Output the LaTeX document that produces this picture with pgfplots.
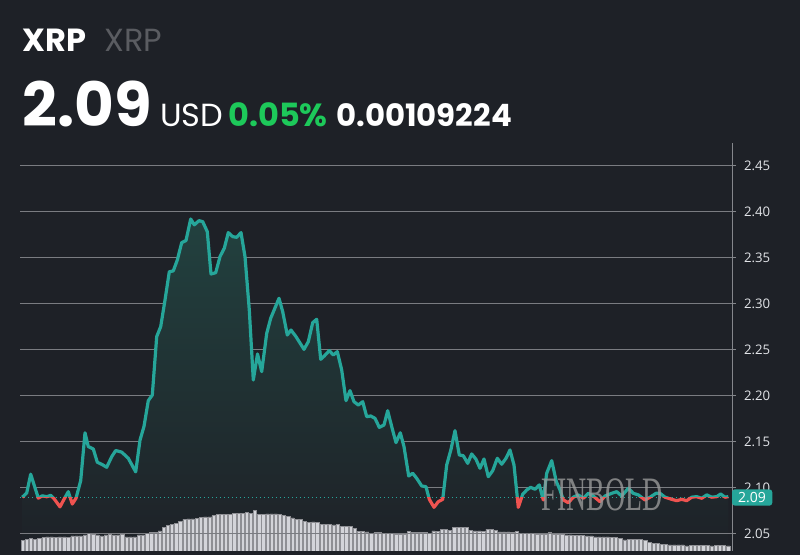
\documentclass[border=0pt]{standalone}
\usepackage{pgfplots}
\pgfplotsset{compat=1.18}
\usepackage{pgfplotstable}
\usepackage{fontspec}
\setmainfont{Poppins}
\newfontfamily\tickfont{Open Sans}
\newfontfamily\wmfont{Liberation Serif}

\definecolor{bg}{HTML}{1E2127}
\definecolor{upc}{HTML}{26A69A}
\definecolor{dnc}{HTML}{EF5350}
\definecolor{gridc}{HTML}{7A7C81}
\definecolor{axc}{HTML}{85878C}
\definecolor{txt}{HTML}{E2E4E8}
\definecolor{grn}{HTML}{1DC95A}
\definecolor{dimc}{HTML}{5A5C61}
\definecolor{barc}{HTML}{D3D4D9}
\definecolor{bare}{HTML}{8E8F94}
\definecolor{fillc}{HTML}{22413F}

% price line: x position, price (USD)
\pgfplotstableread{
x y
22.3 2.0900
26.7 2.0946
30.7 2.1150
38.3 2.0890
42.3 2.0915
46.7 2.0905
50.7 2.0920
54.3 2.0880
60.0 2.0795
64.0 2.0877
68.3 2.0960
72.3 2.0826
76.0 2.0888
80.7 2.1080
85.0 2.1600
88.3 2.1450
93.3 2.1424
97.3 2.1280
102.3 2.1254
106.7 2.1225
111.7 2.1340
115.7 2.1407
121.7 2.1390
128.3 2.1323
135.7 2.1175
140.0 2.1520
144.0 2.1670
148.3 2.1950
152.3 2.2010
156.7 2.2645
160.7 2.2754
165.0 2.3043
169.3 2.3350
173.3 2.3360
177.3 2.3478
181.7 2.3667
186.0 2.3690
190.7 2.3924
194.3 2.3860
199.0 2.3906
202.7 2.3895
207.3 2.3786
211.0 2.3326
215.7 2.3340
220.0 2.3515
224.3 2.3606
228.3 2.3776
232.7 2.3732
236.7 2.3725
241.0 2.3776
245.0 2.3515
249.3 2.2935
253.3 2.2174
257.5 2.2457
261.7 2.2265
266.7 2.2680
270.7 2.2845
279.0 2.3062
282.7 2.2917
287.3 2.2663
291.0 2.2717
296.0 2.2645
304.0 2.2507
308.3 2.2590
312.7 2.2797
316.7 2.2834
320.7 2.2399
324.3 2.2435
329.3 2.2493
333.3 2.2446
337.3 2.2482
341.7 2.2283
346.0 2.1949
350.0 2.2058
354.0 2.1938
358.3 2.1902
362.7 2.1938
366.7 2.1775
370.7 2.1783
375.0 2.1757
379.3 2.1659
384.0 2.1685
387.7 2.1840
391.7 2.1667
396.0 2.1493
400.3 2.1600
404.0 2.1450
408.7 2.1130
412.7 2.1160
416.7 2.1105
421.7 2.1022
426.0 2.1014
429.3 2.0877
434.0 2.0790
438.3 2.0851
442.7 2.0877
446.7 2.1250
451.0 2.1420
455.0 2.1623
459.3 2.1359
463.3 2.1351
467.7 2.1268
471.7 2.1370
476.0 2.1312
480.0 2.1214
484.0 2.1315
488.3 2.1123
492.7 2.1188
497.3 2.1323
501.7 2.1258
506.0 2.1323
510.0 2.1413
514.0 2.1250
518.3 2.0790
522.7 2.0932
526.7 2.0978
530.7 2.1007
535.0 2.0986
539.3 2.1033
543.3 2.0870
546.7 2.1160
551.7 2.1297
556.3 2.1070
560.0 2.0978
563.3 2.0870
568.3 2.0840
573.3 2.0900
578.3 2.0925
583.3 2.0888
588.3 2.0942
593.3 2.0913
600.0 2.0851
605.0 2.0913
611.7 2.0942
616.7 2.0960
621.7 2.0913
628.3 2.0997
633.3 2.0942
638.3 2.0925
645.0 2.0870
650.0 2.0900
656.0 2.0942
660.0 2.0942
665.0 2.0900
671.7 2.0877
676.7 2.0862
681.7 2.0877
686.7 2.0862
691.7 2.0900
696.7 2.0906
701.7 2.0888
706.7 2.0925
711.7 2.0900
716.7 2.0906
720.7 2.0935
725.0 2.0900
728.3 2.0906
}\price

% volume bars: index, relative height
\pgfplotstableread{
i v
0 10.7
1 11.7
2 12.7
3 11.7
4 12.7
5 13.3
6 14
7 14
8 13.3
9 14
10 14
11 13.3
12 15
13 15
14 15
15 16
16 17.3
17 16.7
18 16
19 15
20 16
21 16.7
22 16
23 16
24 16.7
25 14
26 14
27 14
28 16
29 16
30 17.3
31 18.3
32 18.3
33 20
34 23.3
35 25.7
36 26.7
37 27.3
38 29.3
39 31.7
40 32
41 32
42 32.7
43 33.3
44 34
45 34
46 35.3
47 36.7
48 36.7
49 36.7
50 36.7
51 37.3
52 37.3
53 37.3
54 38.3
55 37.3
56 40.7
57 36.7
58 36.3
59 37
60 37
61 37
62 36.7
63 35.3
64 34.3
65 33
66 31.7
67 31.7
68 29.7
69 28.3
70 29
71 28.3
72 26.7
73 26.3
74 26.3
75 26
76 26.7
77 24.3
78 24.3
79 24.3
80 22.7
81 19.7
82 19.7
83 19
84 17.7
85 18.3
86 18.3
87 17.7
88 17.3
89 17.3
90 16.7
91 16.7
92 16.7
93 19.3
94 18.3
95 18.3
96 18.3
97 18.3
98 17.7
99 20
100 19.3
101 21.7
102 21.7
103 20.7
104 23.3
105 23.3
106 23.3
107 23.3
108 20.7
109 20
110 20
111 19.3
112 21.7
113 21.7
114 20.7
115 19
116 19
117 19
118 18.3
119 19.3
120 17.7
121 17.7
122 17.3
123 17.7
124 16.7
125 16.7
126 16.7
127 18.3
128 16.7
129 16.7
130 16.7
131 16
132 16
133 15.7
134 15.7
135 15.7
136 15
137 15
138 14
139 14
140 14
141 14
142 13.3
143 13.3
144 12.7
145 11
146 11.3
147 11.3
148 11.3
149 11.3
150 10.7
151 8.3
152 7.3
153 7.3
154 6.7
155 6.7
156 6
157 6
158 6
159 6
160 5
161 5.7
162 5.7
163 5.7
164 5.7
165 5.7
166 5
167 5.7
168 5.7
169 5.7
170 5
}\volume

\begin{document}
\begin{tikzpicture}[x=0.5pt,y=0.5pt]
\useasboundingbox (0,0) rectangle (800,555);
\fill[bg] (0,0) rectangle (800,555);

\pgfplotsset{pxaxis/.style={at={(10pt,2pt)}, anchor=south west,
  scale only axis, width=356pt, height=204pt}}

% price scale, grid and area
\begin{axis}[pxaxis,
  xmin=20, xmax=732, ymin=2.031522, ymax=2.475,
  axis x line=none, axis y line*=right,
  axis line style={axc, line width=0.5pt, -},
  xtick=\empty,
  ytick={2.05,2.10,2.15,2.20,2.25,2.30,2.35,2.40,2.45},
  yticklabels={2.05,2.10,2.15,2.20,2.25,2.30,2.35,2.40,2.45},
  yticklabel style={font=\tickfont\fontsize{6.6}{7}\selectfont, text=txt, xshift=0.5pt},
  tick style={axc, line width=0.5pt}, major tick length=2pt, tick align=outside,
  ymajorgrids, grid style={gridc, line width=0.5pt},
]
\addplot[draw=none, top color=fillc, bottom color=bg] table[x=x,y=y]{\price} \closedcycle;
\end{axis}

% volume
\begin{axis}[pxaxis,
  xmin=-0.65, xmax=170.92, ymin=0, ymax=408,
  axis lines=none, ybar, bar width=0.78, bar shift=0pt,
]
\addplot[fill=barc, draw=bare, line width=0.3pt] table[x=i,y=v]{\volume};
\end{axis}

% price line on top
\begin{axis}[pxaxis,
  xmin=20, xmax=732, ymin=2.031522, ymax=2.475,
  axis lines=none,
]
\addplot[gridc, line width=0.5pt] coordinates {(20,2.05) (732,2.05)};
\addplot[upc, line width=0.6pt, dash pattern=on 0.7pt off 1.3pt] coordinates {(20,2.09) (732,2.09)};
\begin{scope}
\clip (axis cs:0,2.09) rectangle (axis cs:800,2.6);
\addplot[upc, line width=1.6pt, line join=round] table[x=x,y=y]{\price};
\end{scope}
\begin{scope}
\clip (axis cs:0,1.9) rectangle (axis cs:800,2.09);
\addplot[dnc, line width=1.6pt, line join=round] table[x=x,y=y]{\price};
\end{scope}
\end{axis}

% watermark
\node[inner sep=0, text=gray!80, opacity=0.8, xscale=0.58] at (602,60)
  {\wmfont\fontsize{24}{24}\selectfont FINBOLD};

% last price badge
\fill[upc, rounded corners=1.5] (732,49.3) rectangle (772.3,65.7);
\node[inner sep=0, text=white] at (752,57.3) {\tickfont\fontsize{7}{7}\selectfont 2.09};

% header
\node[anchor=base west, inner sep=0, text=white] at (22,503)
  {\fontsize{16}{16}\selectfont\bfseries XRP};
\node[anchor=base west, inner sep=0, text=dimc] at (104,503)
  {\fontsize{16}{16}\selectfont XRP};
\node[anchor=base west, inner sep=0, text=white] at (22,428)
  {\fontsize{30.5}{30.5}\selectfont\bfseries 2.09};
\node[anchor=base west, inner sep=0, text=white] at (160,428)
  {\fontsize{16}{16}\selectfont USD};
\node[anchor=base west, inner sep=0, text=grn] at (228,428)
  {\fontsize{16}{16}\selectfont\bfseries 0.05\%};
\node[anchor=base west, inner sep=0, text=white] at (336,428)
  {\fontsize{15.4}{15.4}\selectfont\bfseries 0.00109224};
\end{tikzpicture}
\end{document}
